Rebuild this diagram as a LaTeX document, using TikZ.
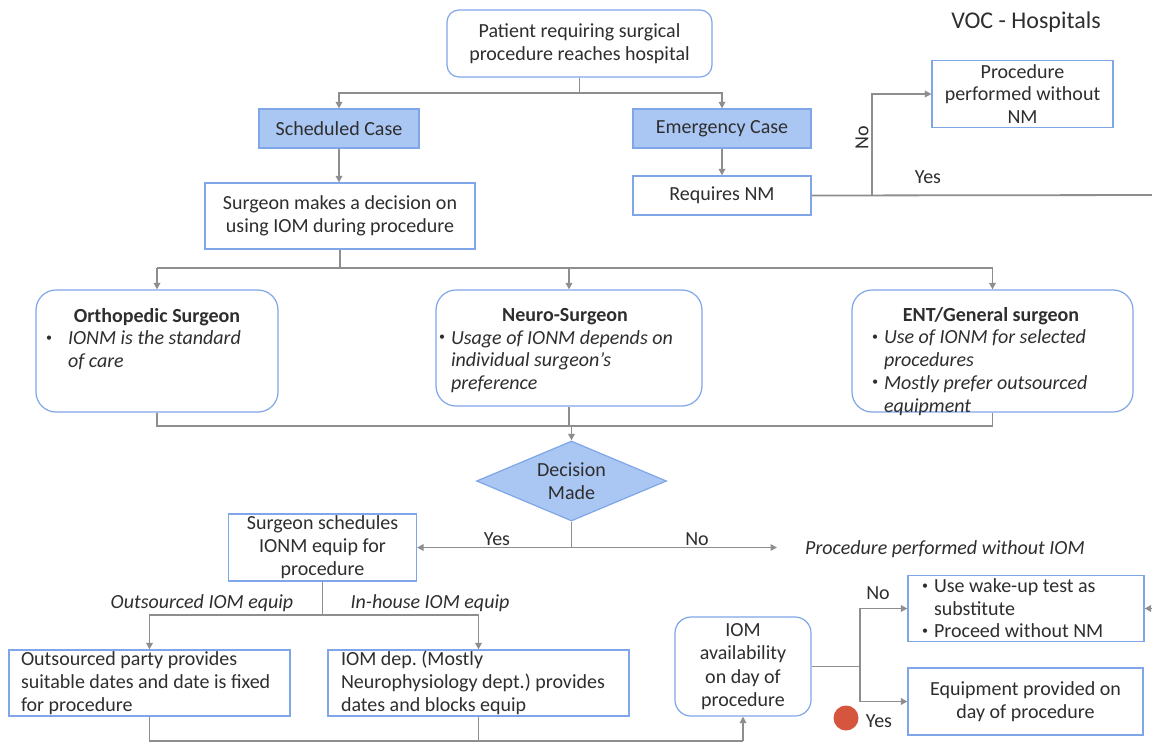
\documentclass[tikz,border=0pt]{standalone}
\usepackage{fontspec}
\setmainfont{Carlito}
\usetikzlibrary{arrows.meta,shapes.geometric,calc}
\definecolor{bord}{HTML}{7FA6E8}
\definecolor{fillb}{HTML}{AAC6F3}
\definecolor{conncol}{HTML}{8E8E8E}
\definecolor{txt}{HTML}{2E2E2E}
\definecolor{dotred}{HTML}{D6553F}
\frenchspacing
\newcommand{\mydot}{\raisebox{0.18em}{\fontsize{12}{12}\selectfont\textbullet}}
\newcommand{\mybul}[2]{\makebox[#1][l]{\mydot}#2}
\begin{document}
\begin{tikzpicture}[x=1pt,y=-1pt,
  font=\fontsize{20}{23}\selectfont\frenchspacing, text=txt,
  box/.style={draw=bord, line width=1.2pt, inner sep=0pt, align=center},
  rbox/.style={box, rounded corners=12pt},
  fbox/.style={box, fill=fillb},
  txtn/.style={inner sep=0pt, align=flush left},
  lbl/.style={inner sep=0pt},
  conn/.style={draw=conncol, line width=1.8pt},
  arr/.style={conn, -{Triangle[length=6.5pt,width=6.5pt]}}
]
\clip (0,0) rectangle (1152,744);
\fill[white] (0,0) rectangle (1152,744);

% row / column helper coordinates
\coordinate (r1) at (0,93);
\coordinate (r2) at (0,268);
\coordinate (r3) at (0,426);
\coordinate (r4) at (0,615);
\coordinate (r5) at (0,741);
\coordinate (c1) at (872,0);
\coordinate (c2) at (860,0);
\coordinate (offr) at (1165,195);
\coordinate (noend) at (777,547.5);
\coordinate (wakein) at (1170,608.5);

% boxes
\node[rbox, minimum width=265pt, minimum height=67pt] (top) at (579.5,43.5) {Patient requiring surgical\\procedure reaches hospital};
\node[fbox, minimum width=160pt, minimum height=39pt] (sched) at (339,128.5) {Scheduled Case};
\node[fbox, minimum width=178pt, minimum height=39pt] (emerg) at (722,128.5) {Emergency Case};
\node[box, minimum width=181pt, minimum height=67pt, font=\fontsize{20}{22.5}\selectfont] (pwnm) at (1022.5,94) {Procedure\\performed without\\NM};
\node[box, minimum width=178pt, minimum height=39pt] (reqnm) at (722,195.5) {Requires NM};
\node[box, minimum width=270pt, minimum height=66pt] (decide) at (340,216) {Surgeon makes a decision on\\using IOM during procedure};

\node[box, rounded corners=20pt, minimum width=242pt, minimum height=122pt] (ortho) at (157,351) {};
\node[box, rounded corners=20pt, minimum width=266pt, minimum height=116pt] (neuro) at (569,348) {};
\node[box, rounded corners=20pt, minimum width=281pt, minimum height=122pt] (ent) at (992.5,351) {};

\node[txtn, anchor=north, text width=222pt, font=\fontsize{20}{22.7}\selectfont] (orthot) at (157,308)
  {{\centering\textbf{Orthopedic Surgeon}\par}\mybul{22pt}{\itshape IONM is the standard}\\\hspace*{22pt}\textit{of care}};
\node[txtn, anchor=north, text width=252pt, font=\fontsize{20}{22.7}\selectfont] (neurot) at (565,308)
  {{\centering\textbf{Neuro-Surgeon}\par}\mybul{12pt}{\itshape Usage of IONM depends on}\\\hspace*{12pt}\textit{individual surgeon’s}\\\hspace*{12pt}\textit{preference}};
\node[txtn, anchor=north, text width=238pt, font=\fontsize{20}{22.7}\selectfont] (entt) at (991,307)
  {{\centering\textbf{ENT/General surgeon}\par}\mybul{12pt}{\itshape Use of IONM for selected}\\\hspace*{12pt}\textit{procedures}\\\mybul{12pt}{\itshape Mostly prefer outsourced}\\\hspace*{12pt}\textit{equipment}};

\node[diamond, draw=bord, line width=1.2pt, fill=fillb, aspect=2.4, inner sep=0pt, minimum width=190pt, minimum height=80pt, align=center] (dm) at (571.5,481) {Decision\\Made};

\node[box, minimum width=188pt, minimum height=67pt] (sched2) at (322.5,547.5) {Surgeon schedules\\IONM equip for\\procedure};
\node[box, align=flush left, text width=257pt, minimum width=281pt, minimum height=66pt] (outs) at (149.5,683) {Outsourced party provides\\suitable dates and date is fixed\\for procedure};
\node[box, align=flush left, text width=275pt, minimum width=301pt, minimum height=66pt] (inh) at (478.5,683) {IOM dep. (Mostly\\Neurophysiology dept.) provides\\dates and blocks equip};
\node[box, rounded corners=16pt, minimum width=136pt, minimum height=99pt, font=\fontsize{20}{23.5}\selectfont] (avail) at (743,666.5) {IOM\\availability\\on day of\\procedure};
\node[box, align=flush left, text width=208pt, minimum width=236pt, minimum height=66pt, font=\fontsize{20}{22.5}\selectfont] (wake) at (1026,608.5) {\mybul{12pt}{Use wake-up test as}\\\hspace*{12pt}substitute\\\mybul{12pt}{Proceed without NM}};
\node[box, minimum width=235pt, minimum height=67pt] (equip) at (1025.5,701.5) {Equipment provided on\\day of procedure};

% labels
\node[lbl, font=\fontsize{24}{26}\selectfont] (voc) at (1026,22) {VOC - Hospitals};
\node[lbl] (yes1) at (928,177) {Yes};
\node[lbl, rotate=90] (no1) at (862,138) {No};
\node[lbl] (yes2) at (497,539) {Yes};
\node[lbl] (no2) at (697,539) {No};
\node[lbl, anchor=west] (pwiom) at (805,549) {\textit{Procedure performed without IOM}};
\node[lbl] (outl) at (202,603) {\textit{Outsourced IOM equip}};
\node[lbl] (inl) at (430,603) {\textit{In-house IOM equip}};
\node[lbl] (no3) at (878,593) {No};
\node[lbl] (yes3) at (879,721) {Yes};
\node[circle, fill=dotred, minimum size=25pt, inner sep=0pt] (reddot) at (846,718) {};

% connectors
\draw[arr] (top.south) |- (sched.north |- r1) -- (sched.north);
\draw[arr] (top.south |- r1) -| (emerg.north);
\draw[arr] (sched.south) -- (sched.south |- decide.north);
\draw[arr] (emerg.south) -- (reqnm.north);
\draw[conn] (reqnm.east) -- (offr);
\draw[arr] (reqnm.east -| c1) |- (pwnm.west);

\draw[conn] (decide.south) -- (decide.south |- r2);
\draw[conn] (ortho.north |- r2) -- (ent.north |- r2);
\draw[arr] (ortho.north |- r2) -- (ortho.north);
\draw[arr] (neuro.north |- r2) -- (neuro.north);
\draw[arr] (ent.north |- r2) -- (ent.north);

\draw[conn] (ortho.south) |- (ent.south |- r3) -- (ent.south);
\draw[conn] (neuro.south) -- (neuro.south |- r3);
\draw[arr] (dm.north |- r3) -- (dm.north);

\draw[conn] (dm.south) -- (dm.south |- sched2.east);
\draw[arr] (dm.south |- sched2.east) -- (sched2.east);
\draw[arr] (dm.south |- sched2.east) -- (noend);

\draw[conn] (sched2.south) -- (sched2.south |- r4);
\draw[arr] (sched2.south |- r4) -| (outs.north);
\draw[arr] (sched2.south |- r4) -| (inh.north);

\draw[conn] (outs.south) |- (avail.south |- r5);
\draw[conn] (inh.south) -- (inh.south |- r5);
\draw[arr] (avail.south |- r5) -- (avail.south);

\draw[conn] (avail.east) -- (avail.east -| c2);
\draw[arr] (avail.east -| c2) |- (wake.west);
\draw[arr] (avail.east -| c2) |- (equip.west);
\draw[arr] (wakein) -- (wake.east);
\end{tikzpicture}
\end{document}
